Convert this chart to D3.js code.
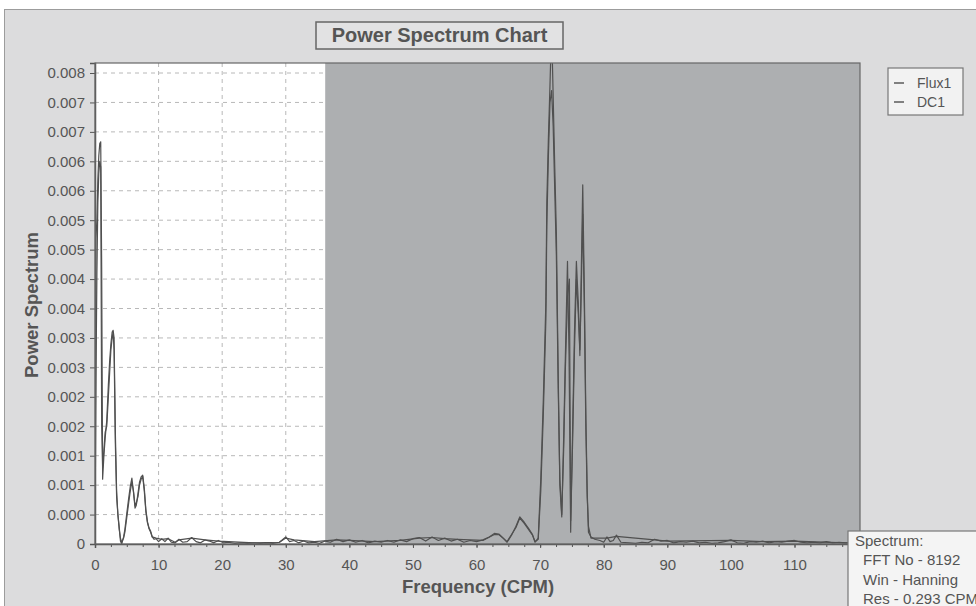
<!DOCTYPE html>
<html>
<head>
<meta charset="utf-8">
<script src="https://cdn.jsdelivr.net/npm/d3@7"></script>
<style>
  body { margin: 0; background: #fff; }
  svg { display: block; font-family: "Liberation Sans", Arial, sans-serif; }
</style>
</head>
<body>
<svg id="chart" width="976" height="606"></svg>
<script>
// ---- data: [frequency (CPM), power] ----
const flux1 = [
  [0, 0.00005], [0.15, 0.0052], [0.3, 0.0055], [0.45, 0.0062], [0.6, 0.0066], [0.75, 0.0068],
  [0.9, 0.00683], [1.05, 0.0047], [1.2, 0.0011], [1.4, 0.0015], [1.6, 0.0018], [1.85, 0.0021],
  [2.1, 0.0027], [2.3, 0.0031], [2.5, 0.0034], [2.7, 0.0036], [2.85, 0.00363], [3.0, 0.0035],
  [3.2, 0.0019], [3.4, 0.0009], [3.6, 0.0005], [3.8, 0.0003], [4.0, 0.00005], [4.2, 0.0],
  [4.5, 0.00012], [4.7, 0.00025], [5.0, 0.00052], [5.3, 0.00078], [5.55, 0.00098], [5.8, 0.00112],
  [6.05, 0.00088], [6.3, 0.00061], [6.5, 0.00066], [6.75, 0.00085], [7.0, 0.00105], [7.25, 0.00114],
  [7.5, 0.00117], [7.75, 0.00095], [8.0, 0.00058], [8.25, 0.00038], [8.5, 0.00027], [8.75, 0.00022],
  [9.0, 0.00012], [9.3, 0.00008], [9.6, 0.00009], [10.0, 0.00004], [10.5, 0.00009], [11.0, 0.00004],
  [11.5, 0.0001], [12.0, 0.00003], [12.6, 0.00002], [13.2, 0.00008], [13.8, 0.00003], [14.5, 0.00004],
  [15.2, 0.00011], [15.9, 0.00004], [16.6, 0.00002], [17.3, 0.00007], [18.0, 0.00005], [18.7, 0.00002],
  [19.4, 0.00006], [20.2, 0.00002], [21.0, 0.00003], [22.0, 0.00001], [23.0, 0.00002], [24.0, 0.00001],
  [25.0, 0.00002], [26.0, 0.00001], [27.0, 0.00002], [28.0, 0.00001], [29.0, 0.00003], [30.0, 0.00012],
  [30.6, 0.00004], [31.3, 0.00006], [32.0, 0.00002], [32.8, 0.00005], [33.6, 0.00002], [34.5, 0.00003],
  [35.3, 0.00001], [36.2, 0.00005], [37.0, 0.00003], [38.0, 0.00008], [39.0, 0.00004], [40.0, 0.00007],
  [41.0, 0.00003], [42.0, 0.00006], [43.0, 0.00002], [44.0, 0.00005], [45.0, 0.00003], [46.0, 0.00006],
  [47.0, 0.00003], [48.0, 0.00007], [49.0, 0.00004], [50.0, 0.00009], [51.0, 0.00011], [52.0, 0.00005],
  [53.0, 0.00012], [54.0, 0.00006], [55.0, 0.0001], [56.0, 0.00005], [57.0, 0.00008], [58.0, 0.00003],
  [59.0, 0.00006], [60.0, 0.00004], [61.0, 0.00007], [62.0, 0.00012], [62.8, 0.00018], [63.5, 0.00017],
  [64.2, 0.0001], [64.8, 0.00003], [65.5, 0.00015], [66.2, 0.0003], [66.8, 0.00046], [67.5, 0.00037],
  [68.2, 0.00026], [68.8, 0.00016], [69.2, 0.00003], [69.7, 0.0001], [70.1, 0.0011], [70.5, 0.00245],
  [70.9, 0.0041], [71.05, 0.0058], [71.3, 0.0069], [71.55, 0.0078], [71.8, 0.0088], [72.05, 0.0076],
  [72.3, 0.0064], [72.55, 0.0053], [72.85, 0.0028], [73.1, 0.001], [73.4, 0.00046], [73.7, 0.0018],
  [73.95, 0.0031], [74.3, 0.0048], [74.55, 0.0032], [74.8, 0.0002], [75.1, 0.0019], [75.4, 0.0036],
  [75.7, 0.0048], [76.0, 0.0041], [76.25, 0.0032], [76.45, 0.0045], [76.7, 0.0061], [76.95, 0.0043],
  [77.2, 0.0021], [77.4, 0.0009], [77.6, 0.0002], [78.0, 0.00012], [78.6, 0.00008], [79.4, 0.00006],
  [80.0, 0.00003], [80.5, 0.00012], [81.0, 0.00004], [81.5, 0.00006], [82.0, 0.00015], [82.7, 0.00003],
  [84.0, 0.00002], [85.0, 0.00001], [86.0, 0.00003], [87.0, 0.00002], [88.0, 0.00008], [89.0, 0.00005],
  [90.0, 0.00006], [91.0, 0.00002], [92.0, 0.00004], [93.0, 0.00003], [94.0, 0.00005], [95.0, 0.00002],
  [96.0, 0.00003], [97.0, 0.00001], [98.0, 0.00002], [99.0, 0.00004], [100.0, 0.00007], [101.0, 0.00002],
  [102.0, 0.00001], [103.0, 0.00004], [104.0, 0.00003], [105.0, 0.00005], [106.0, 0.00002], [107.0, 0.00004],
  [108.0, 0.00003], [109.0, 0.00005], [110.0, 0.00006], [111.0, 0.00003], [112.0, 0.00002], [113.0, 0.00003],
  [114.0, 0.00002], [115.0, 0.00004], [116.0, 0.00002], [117.0, 0.00003], [118.0, 0.00002], [119.0, 0.00002],
  [120.3, 0.00001]
];

const dc1 = [
  [0, 0.00008], [0.15, 0.0028], [0.3, 0.0046], [0.45, 0.0058], [0.6, 0.0063], [0.75, 0.0065],
  [0.9, 0.0064], [1.05, 0.002], [1.2, 0.0013], [1.4, 0.0016], [1.6, 0.0019], [1.85, 0.002],
  [2.1, 0.0025], [2.3, 0.0029], [2.5, 0.0033], [2.7, 0.0035], [2.85, 0.0036], [3.0, 0.0033],
  [3.2, 0.0017], [3.4, 0.0008], [3.6, 0.0005], [3.8, 0.00025], [4.0, 0.0001], [4.2, 0.00003],
  [4.5, 0.0001], [4.7, 0.0002], [5.0, 0.00045], [5.3, 0.0007], [5.55, 0.0009], [5.8, 0.00105],
  [6.05, 0.0009], [6.3, 0.00065], [6.5, 0.0007], [6.75, 0.0008], [7.0, 0.001], [7.25, 0.0011],
  [7.5, 0.00115], [7.75, 0.0009], [8.0, 0.00055], [8.25, 0.00036], [8.5, 0.00026], [8.75, 0.0002],
  [9.0, 0.00012], [9.6, 0.0001], [10.5, 0.00008], [11.5, 0.00009], [12.6, 0.00003], [13.2, 0.00007],
  [15.2, 0.0001], [17.3, 0.00007], [19.4, 0.00005], [21.0, 0.00004], [25.0, 0.00002], [29.0, 0.00003],
  [30.0, 0.0001], [31.3, 0.00007], [34.5, 0.00004], [38.0, 0.00007], [40.0, 0.00006], [44.0, 0.00004],
  [48.0, 0.00006], [51.0, 0.0001], [53.0, 0.00011], [55.0, 0.00009], [57.0, 0.00008], [61.0, 0.00006],
  [62.8, 0.00016], [63.5, 0.00016], [64.8, 0.00004], [66.2, 0.00028], [66.8, 0.00044], [67.5, 0.00035],
  [68.8, 0.00015], [69.2, 0.00004], [69.7, 0.00008], [70.1, 0.0009], [70.5, 0.0022], [70.9, 0.0038],
  [71.05, 0.0054], [71.3, 0.0066], [71.55, 0.0075], [71.8, 0.0077], [72.05, 0.0071], [72.3, 0.006],
  [72.55, 0.0049], [72.85, 0.0026], [73.1, 0.0011], [73.4, 0.0005], [73.7, 0.0016], [73.95, 0.0029],
  [74.3, 0.0042], [74.6, 0.0045], [74.8, 0.0004], [75.1, 0.0017], [75.4, 0.0033], [75.7, 0.0045],
  [76.0, 0.0039], [76.25, 0.0033], [76.45, 0.0042], [76.7, 0.0056], [76.95, 0.004], [77.2, 0.0019],
  [77.4, 0.0008], [77.6, 0.0003], [78.0, 0.0001], [80.5, 0.0001], [82.0, 0.00013], [88.0, 0.00007],
  [90.0, 0.00005], [100.0, 0.00006], [105.0, 0.00004], [110.0, 0.00005], [120.3, 0.00001]
];

const seriesNames = ["Flux1", "DC1"];
const xTicks = [0, 10, 20, 30, 40, 50, 60, 70, 80, 90, 100, 110];
const yTicks = [0, 0.0005, 0.001, 0.0015, 0.002, 0.0025, 0.003, 0.0035, 0.004,
                0.0045, 0.005, 0.0055, 0.006, 0.0065, 0.007, 0.0075, 0.008];
const yTickLabels = ["0", "0.000", "0.001", "0.001", "0.002", "0.002", "0.003", "0.003", "0.004",
                     "0.004", "0.005", "0.005", "0.006", "0.006", "0.007", "0.007", "0.008"];
const shadeFrom = 36.2;   // CPM where the grey band starts
const xMax = 120.3;
const yMax = 0.00817;
const infoLines = ["Spectrum:", "FFT No - 8192", "Win - Hanning", "Res - 0.293 CPM"];

// ---- drawing ----
const INK = "#555";
const LINE = "#505050";
const svg = d3.select("#chart");

const plot = { left: 95, right: 860, top: 63, bottom: 544 };

const x = d3.scaleLinear().domain([0, xMax]).range([plot.left, plot.right]);
const y = d3.scaleLinear().domain([0, yMax]).range([plot.bottom, plot.top]);

// panel background
svg.append("rect")
  .attr("x", 4.5).attr("y", 9.5)
  .attr("width", 1000).attr("height", 620)
  .attr("fill", "#dcdcdd")
  .attr("stroke", "#9c9c9c");

// plot area
svg.append("rect")
  .attr("x", plot.left).attr("y", plot.top)
  .attr("width", plot.right - plot.left).attr("height", plot.bottom - plot.top)
  .attr("fill", "#fff");

// grid
const grid = svg.append("g");
grid.selectAll("line.h")
  .data(yTicks.slice(1))
  .join("line")
  .attr("x1", plot.left).attr("x2", plot.right)
  .attr("y1", d => y(d)).attr("y2", d => y(d))
  .attr("stroke", "#b8b8b8")
  .attr("stroke-dasharray", "4 4");
grid.selectAll("line.v")
  .data(xTicks.slice(1))
  .join("line")
  .attr("x1", d => x(d)).attr("x2", d => x(d))
  .attr("y1", plot.top).attr("y2", plot.bottom)
  .attr("stroke", "#b8b8b8")
  .attr("stroke-dasharray", "4 4");

// shaded band
svg.append("rect")
  .attr("x", x(shadeFrom)).attr("y", plot.top)
  .attr("width", plot.right - x(shadeFrom)).attr("height", plot.bottom - plot.top)
  .attr("fill", "#adafb1");

// clip for lines
svg.append("clipPath").attr("id", "plot-clip")
  .append("rect")
  .attr("x", plot.left).attr("y", plot.top)
  .attr("width", plot.right - plot.left).attr("height", plot.bottom - plot.top);

const line = d3.line()
  .x(d => x(d[0]))
  .y(d => y(d[1]));

const lines = svg.append("g").attr("clip-path", "url(#plot-clip)");
[dc1, flux1].forEach(s => {
  lines.append("path")
    .datum(s)
    .attr("fill", "none")
    .attr("stroke", LINE)
    .attr("stroke-width", 1.2)
    .attr("stroke-linejoin", "round")
    .attr("d", line);
});

// axes
const yAxis = svg.append("g")
  .attr("transform", `translate(${plot.left},0)`)
  .call(d3.axisLeft(y).tickValues(yTicks).tickFormat((d, i) => yTickLabels[i]).tickSize(5).tickPadding(5));

const xAxis = svg.append("g")
  .attr("transform", `translate(0,${plot.bottom})`)
  .call(d3.axisBottom(x).tickValues(xTicks).tickSize(4).tickPadding(11));

svg.append("g")
  .attr("transform", `translate(0,${plot.bottom})`)
  .call(d3.axisBottom(x).tickValues(d3.range(2.5, xMax, 2.5)).tickSize(3).tickFormat(""))
  .call(g => g.select(".domain").remove());

svg.selectAll(".tick line").attr("stroke", INK);
svg.selectAll(".domain").attr("stroke", INK).attr("stroke-width", 1.5);
[xAxis, yAxis].forEach(a => a.selectAll("text")
  .attr("font-family", "Liberation Sans, Arial, sans-serif")
  .attr("font-size", 15)
  .attr("fill", INK));

// plot border
svg.append("rect")
  .attr("x", plot.left).attr("y", plot.top)
  .attr("width", plot.right - plot.left).attr("height", plot.bottom - plot.top)
  .attr("fill", "none")
  .attr("stroke", "#666")
  .attr("stroke-width", 1.2);

// axis labels
svg.append("text")
  .attr("x", 478).attr("y", 593)
  .attr("text-anchor", "middle")
  .attr("font-size", 18.5)
  .attr("font-weight", 700)
  .attr("fill", INK)
  .text("Frequency (CPM)");

svg.append("text")
  .attr("transform", "translate(38,305) rotate(-90)")
  .attr("text-anchor", "middle")
  .attr("font-size", 18.5)
  .attr("font-weight", 700)
  .attr("fill", INK)
  .text("Power Spectrum");

// title
svg.append("rect")
  .attr("x", 316).attr("y", 22)
  .attr("width", 247).attr("height", 27)
  .attr("fill", "#e2e2e3")
  .attr("stroke", "#666")
  .attr("stroke-width", 1.5);
svg.append("text")
  .attr("x", 439.5).attr("y", 42)
  .attr("text-anchor", "middle")
  .attr("font-size", 20)
  .attr("font-weight", 700)
  .attr("fill", INK)
  .text("Power Spectrum Chart");

// legend
const legend = svg.append("g");
legend.append("rect")
  .attr("x", 888).attr("y", 68)
  .attr("width", 75).attr("height", 47)
  .attr("fill", "#f2f2f2")
  .attr("stroke", "#777")
  .attr("stroke-width", 1.2);
seriesNames.forEach((name, i) => {
  const ly = 83 + i * 19;
  legend.append("line")
    .attr("x1", 894).attr("x2", 904)
    .attr("y1", ly).attr("y2", ly)
    .attr("stroke", LINE).attr("stroke-width", 1.4);
  legend.append("text")
    .attr("x", 917).attr("y", ly + 5)
    .attr("font-size", 14)
    .attr("fill", INK)
    .text(name);
});

// info box
const info = svg.append("g");
info.append("rect")
  .attr("x", 848).attr("y", 531)
  .attr("width", 140).attr("height", 90)
  .attr("fill", "#f4f4f4")
  .attr("stroke", "#777")
  .attr("stroke-width", 1.2);
infoLines.forEach((t, i) => {
  info.append("text")
    .attr("x", i === 0 ? 855 : 863)
    .attr("y", 546 + i * 19.3)
    .attr("font-size", 15)
    .attr("fill", INK)
    .text(t);
});
</script>
</body>
</html>
